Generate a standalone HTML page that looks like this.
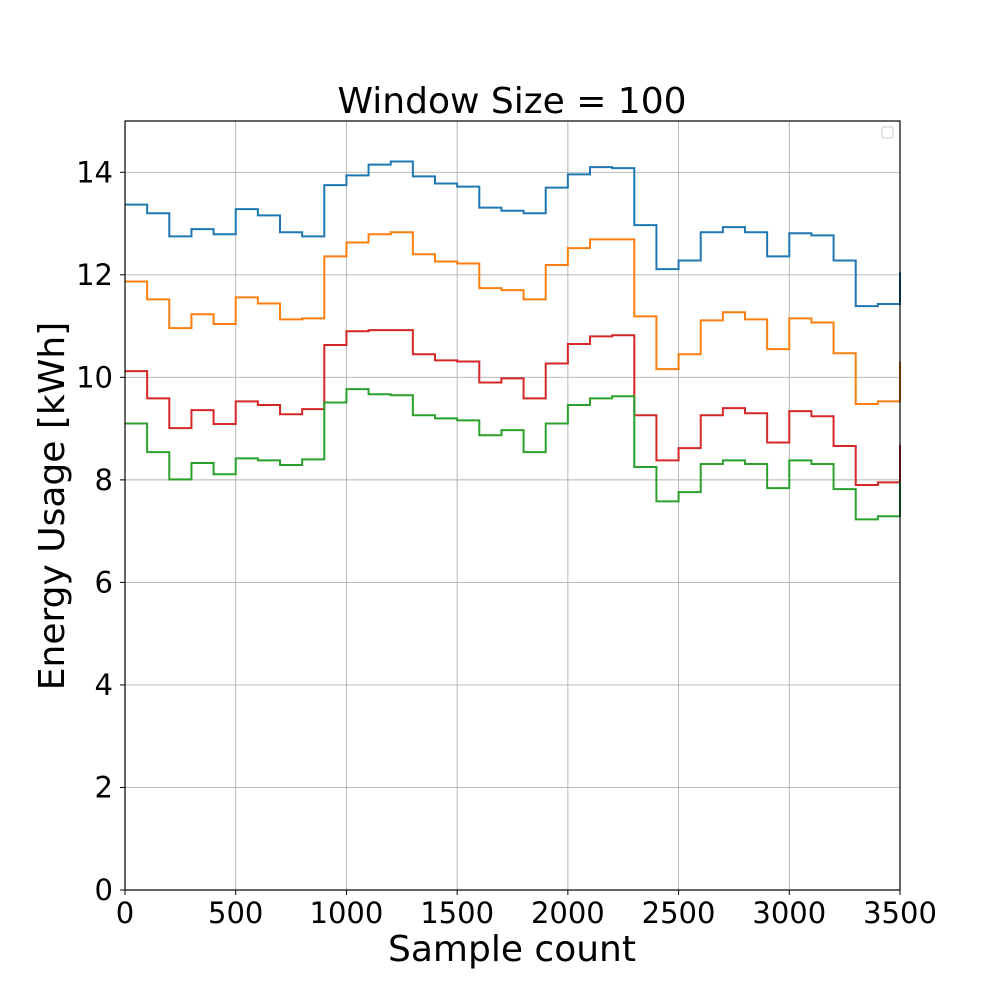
<!DOCTYPE html>
<html><head><meta charset="utf-8"><style>
html,body{margin:0;padding:0;background:#fff;}
svg text{font-family:"DejaVu Sans","Liberation Sans",sans-serif;fill:#000;}
</style></head><body>
<svg id="chart" width="1000" height="1000" xmlns="http://www.w3.org/2000/svg">
<rect x="0" y="0" width="1000" height="1000" fill="#fff"/>
<g id="grid"></g>
<g id="series"></g>
<rect x="125" y="121" width="775" height="769" fill="none" stroke="#000" stroke-width="1.2"/>
<g id="ticks"></g>
<text x="512" y="113" font-size="36" text-anchor="middle">Window Size = 100</text>
<text x="512" y="961" font-size="36" text-anchor="middle">Sample count</text>
<text transform="translate(64,506) rotate(-90)" font-size="36" text-anchor="middle">Energy Usage [kWh]</text>
<rect x="882" y="127" width="11" height="11" rx="2" fill="#fff" stroke="#ccc"/>
</svg>
<script>
const xTicks=[0,500,1000,1500,2000,2500,3000,3500];
const yTicks=[0,2,4,6,8,10,12,14];
const stepWidth=100;
const blueValues=[13.37,13.2,12.75,12.89,12.79,13.28,13.16,12.83,12.75,13.75,13.94,14.15,14.21,13.92,13.78,13.72,13.31,13.25,13.2,13.7,13.96,14.1,14.08,12.97,12.11,12.28,12.83,12.93,12.83,12.36,12.81,12.77,12.28,11.39,11.43,12.05];
const orangeValues=[11.87,11.52,10.96,11.23,11.04,11.56,11.44,11.13,11.15,12.36,12.63,12.79,12.83,12.4,12.26,12.22,11.74,11.7,11.52,12.19,12.52,12.69,12.69,11.19,10.16,10.45,11.11,11.27,11.13,10.55,11.15,11.07,10.47,9.48,9.53,10.31];
const redValues=[10.12,9.59,9.01,9.36,9.09,9.53,9.46,9.28,9.38,10.63,10.9,10.92,10.92,10.45,10.33,10.31,9.9,9.98,9.59,10.27,10.65,10.8,10.82,9.26,8.38,8.62,9.26,9.4,9.3,8.73,9.34,9.24,8.66,7.9,7.95,8.68];
const greenValues=[9.1,8.54,8.01,8.33,8.11,8.42,8.38,8.29,8.4,9.51,9.77,9.67,9.65,9.26,9.2,9.16,8.87,8.97,8.54,9.1,9.46,9.59,9.63,8.25,7.58,7.76,8.31,8.38,8.31,7.84,8.38,8.31,7.82,7.23,7.29,7.97];

const NS="http://www.w3.org/2000/svg";
const X0=125,X1=900,Y0=890,Y1=121,XMAX=3500,YMAX=15;
function sx(v){return X0+(v/XMAX)*(X1-X0);}
function sy(v){return Y0-(v/YMAX)*(Y0-Y1);}
const grid=document.getElementById('grid'),ticks=document.getElementById('ticks'),series=document.getElementById('series');
function mk(tag,attrs,parent){const e=document.createElementNS(NS,tag);for(const k in attrs)e.setAttribute(k,attrs[k]);parent.appendChild(e);return e;}
xTicks.forEach(t=>{
  const gl=mk('line',{x1:sx(t),x2:sx(t),y1:Y1,y2:Y0,stroke:'#b0b0b0','stroke-width':0.9},grid);
  
  
  const tk=mk('line',{x1:sx(t),x2:sx(t),y1:Y0,y2:Y0+5,stroke:'#000','stroke-width':1},ticks);
  
  
  const tx=mk('text',{x:sx(t),y:Y0+33,'font-size':29,'text-anchor':'middle'},ticks);
  tx.textContent=t;
  
  
});
yTicks.forEach(t=>{
  const gl=mk('line',{x1:X0,x2:X1,y1:sy(t),y2:sy(t),stroke:'#b0b0b0','stroke-width':0.9},grid);
  
  
  const tk=mk('line',{x1:X0-5,x2:X0,y1:sy(t),y2:sy(t),stroke:'#000','stroke-width':1},ticks);
  
  
  const tx=mk('text',{x:X0-12,y:sy(t)+10,'font-size':29,'text-anchor':'end'},ticks);
  tx.textContent=t;
  
  
});
function stepPath(vals){
  let d='M'+sx(0)+','+sy(vals[0]);
  for(let i=0;i<vals.length-1;i++){
    d+=' L'+sx((i+1)*stepWidth)+','+sy(vals[i]);
    d+=' L'+sx((i+1)*stepWidth)+','+sy(vals[i+1]);
  }
  return d;
}
[['blue',blueValues,'#1f77b4'],['orange',orangeValues,'#ff7f0e'],['red',redValues,'#d62728'],['green',greenValues,'#2ca02c']].forEach(s=>{
  const p=mk('path',{d:stepPath(s[1]),fill:'none',stroke:s[2],'stroke-width':2},series);
  
  
});
</script>
</body></html>
